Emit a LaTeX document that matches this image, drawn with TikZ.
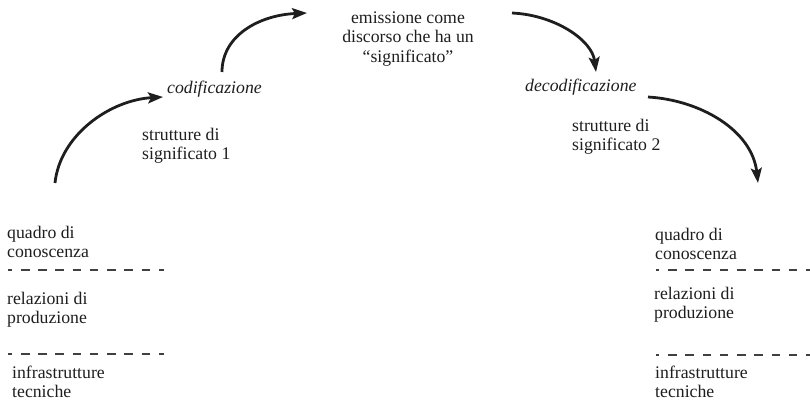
\documentclass[tikz,border=0pt]{standalone}
\usepackage{fontspec}
\setmainfont{Liberation Serif}
\usetikzlibrary{arrows.meta}
\definecolor{ink}{HTML}{1E1E1E}
\tikzset{
  lbl/.style={inner sep=0pt, anchor=base west, align=left, text=ink,
    font=\fontsize{17.8}{19}\selectfont},
  ctr/.style={inner sep=0pt, anchor=base, align=center, text=ink,
    font=\fontsize{17.8}{19.5}\selectfont},
  itl/.style={inner sep=0pt, anchor=base west, text=ink,
    font=\fontsize{17.8}{19}\selectfont\itshape},
  sep/.style={draw=ink!85, line width=2.6pt, dash pattern=on 8.6pt off 8.7pt},
  arr/.style={draw=ink, line width=2.8pt, -{Stealth[length=15pt,width=11pt,inset=3pt]}}
}
\begin{document}
\begin{tikzpicture}[x=1bp,y=-1bp]
\useasboundingbox (0,0) rectangle (810,406);
% left stack (anchors at last-line baselines)
\node[lbl] (lq) at (7,257) {quadro di\\conoscenza};
\node[lbl] (lr) at (7,323) {relazioni di\\produzione};
\node[lbl] (li) at (12,397) {infrastrutture\\tecniche};
\coordinate (ls1a) at (8,270); \coordinate (ls1b) at (164,270);
\coordinate (ls2a) at (8,354); \coordinate (ls2b) at (164,354);
\draw[sep, dash phase=4.3pt] (ls1a) -- (ls1b);
\draw[sep, dash phase=4.3pt] (ls2a) -- (ls2b);
% right stack
\node[lbl] (rq) at (655,259) {quadro di\\conoscenza};
\node[lbl] (rr) at (654,318) {relazioni di\\produzione};
\node[lbl] (ri) at (655,397) {infrastrutture\\tecniche};
\coordinate (rs1a) at (656,270); \coordinate (rs1b) at (812,270);
\coordinate (rs2a) at (656,355); \coordinate (rs2b) at (812,355);
\draw[sep, dash phase=5.1pt] (rs1a) -- (rs1b);
\draw[sep, dash phase=5.1pt] (rs2a) -- (rs2b);
% middle labels
\node[ctr] (em) at (408,62) {emissione come\\discorso che ha un\\``significato''};
\node[itl] (cod) at (167,93) {codificazione};
\node[lbl] (s1) at (142,159) {strutture di\\significato 1};
\node[itl] (dec) at (525,91) {decodificazione};
\node[lbl] (s2) at (572,150) {strutture di\\significato 2};
% arrows
\coordinate (a1s) at (55,183); \coordinate (a1e) at (163,97);
\coordinate (a2s) at (222,72); \coordinate (a2e) at (307,13);
\coordinate (a3s) at (512,13); \coordinate (a3e) at (596,72);
\coordinate (a4s) at (648,97); \coordinate (a4e) at (758,183);
\draw[arr] (a1s) .. controls (60,135) and (110,100) .. (a1e);
\draw[arr] (a2s) .. controls (222,35) and (260,15) .. (a2e);
\draw[arr] (a3s) .. controls (555,15) and (592,40) .. (a3e);
\draw[arr] (a4s) .. controls (700,100) and (752,130) .. (a4e);
\end{tikzpicture}
\end{document}
